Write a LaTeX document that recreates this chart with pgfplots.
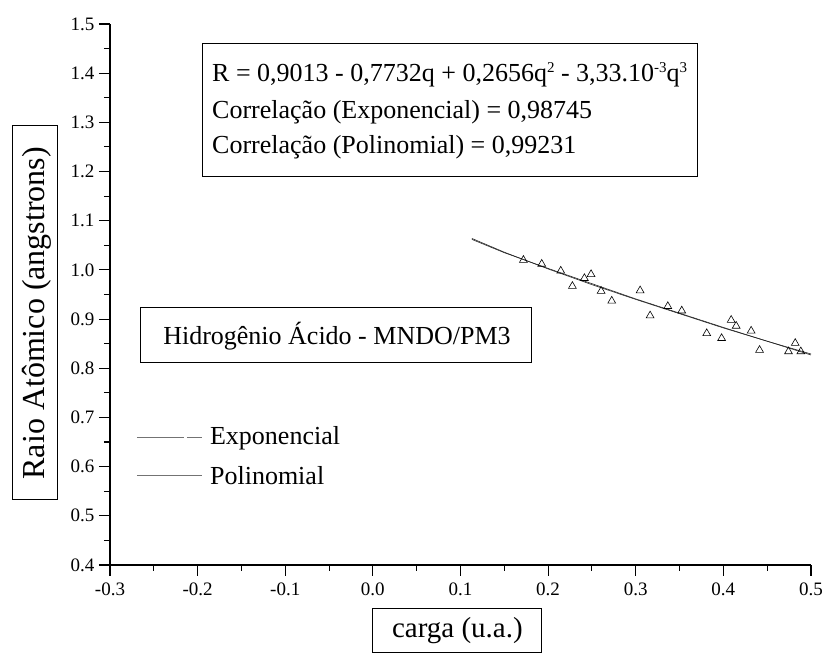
\documentclass[border=0pt]{standalone}
\usepackage{pgfplots}
\pgfplotsset{compat=1.18}
\usepackage{fontspec}
\setmainfont{Liberation Serif}

\pgfplotstableread{
q      r
0.1718 1.020
0.1927 1.012
0.2144 0.998
0.2277 0.967
0.2414 0.983
0.2490 0.991
0.2605 0.957
0.2726 0.937
0.3050 0.958
0.3164 0.907
0.3366 0.926
0.3525 0.917
0.3810 0.871
0.3980 0.861
0.4089 0.898
0.4146 0.886
0.4317 0.876
0.4413 0.837
0.4743 0.834
0.4820 0.851
0.4884 0.834
}\dados

\pgfplotstableread{
q     r
0.113 1.064
0.150 1.036
0.200 1.002
0.250 0.970
0.300 0.940
0.350 0.911
0.400 0.882
0.450 0.855
0.500 0.829
}\expfit

\pgfplotstableread{
q     r
0.113 1.062
0.150 1.035
0.200 1.003
0.250 0.972
0.300 0.941
0.350 0.912
0.400 0.883
0.450 0.855
0.500 0.827
}\polyfit

\begin{document}
\begin{tikzpicture}[x=1pt,y=1pt]
\path[use as bounding box] (-110,-90) rectangle (717,565);
\begin{axis}[
  scale only axis,
  width=701pt, height=541pt,
  xmin=-0.3, xmax=0.5, ymin=0.4, ymax=1.5,
  axis x line=bottom, axis y line=left,
  axis line style={line width=1.2pt, -},
  xtick={-0.3,-0.2,...,0.5}, ytick={0.4,0.5,...,1.5},
  minor x tick num=1, minor y tick num=1,
  tick align=outside,
  major tick length=11pt, minor tick length=6pt,
  every tick/.style={black, line width=1.1pt},
  /pgf/number format/assume math mode=true,
  /pgf/number format/fixed,
  /pgf/number format/fixed zerofill,
  /pgf/number format/precision=1,
  ticklabel style={font=\fontsize{19}{22}\selectfont},
  xticklabel style={yshift=-3pt},
  yticklabel style={xshift=-1pt},
  clip=false,
]
\addplot[black!85, line width=0.6pt] table[x=q,y=r] {\expfit};
\addplot[black!85, line width=0.6pt] table[x=q,y=r] {\polyfit};
\addplot[only marks, mark=triangle, mark size=4.5pt,
  mark options={black, line width=0.6pt}] table[x=q,y=r] {\dados};

% equation box
\draw[line width=1pt] (axis cs:-0.195,1.189) rectangle (axis cs:0.370,1.461);
\begin{scope}[every node/.style={anchor=west, inner sep=0pt,
    font=\fontsize{26}{30}\selectfont}]
\node at (axis cs:-0.1836,1.396) {R = 0,9013 - 0,7732q + 0,2656q{\fontsize{15}{15}\selectfont\raisebox{9pt}{2}} - 3,33.10{\fontsize{15}{15}\selectfont\raisebox{9pt}{-3}}q{\fontsize{15}{15}\selectfont\raisebox{9pt}{3}}};
\node at (axis cs:-0.1836,1.321) {Correlação (Exponencial) = 0,98745};
\node at (axis cs:-0.1836,1.250) {Correlação (Polinomial) = 0,99231};
\end{scope}

% method box
\draw[line width=1pt] (axis cs:-0.265,0.811) rectangle (axis cs:0.181,0.924);
\node[font=\fontsize{26}{30}\selectfont] at (axis cs:-0.041,0.866) {Hidrogênio Ácido - MNDO/PM3};

% legend
\draw[black!55, line width=0.7pt, dash pattern=on 47pt off 3pt on 15pt]
  (axis cs:-0.2693,0.660) -- (axis cs:-0.1951,0.660);
\draw[black!55, line width=0.7pt] (axis cs:-0.2693,0.583) -- (axis cs:-0.1951,0.583);
\node[anchor=west, inner sep=0pt, font=\fontsize{26}{30}\selectfont] at (axis cs:-0.1860,0.657) {Exponencial};
\node[anchor=west, inner sep=0pt, font=\fontsize{26}{30}\selectfont] at (axis cs:-0.1860,0.581) {Polinomial};

% axis titles in boxes
\draw[line width=1pt] (axis cs:-0.4107,0.533) rectangle (axis cs:-0.3596,1.294);
\node[rotate=90, font=\fontsize{32}{36}\selectfont] at (axis cs:-0.3840,0.912) {Raio Atômico (angstrons)};
\draw[line width=1pt] (axis cs:0.000,0.222) rectangle (axis cs:0.193,0.311);
\node[font=\fontsize{29}{33}\selectfont] at (axis cs:0.0965,0.266) {carga (u.a.)};
\end{axis}
\end{tikzpicture}
\end{document}
